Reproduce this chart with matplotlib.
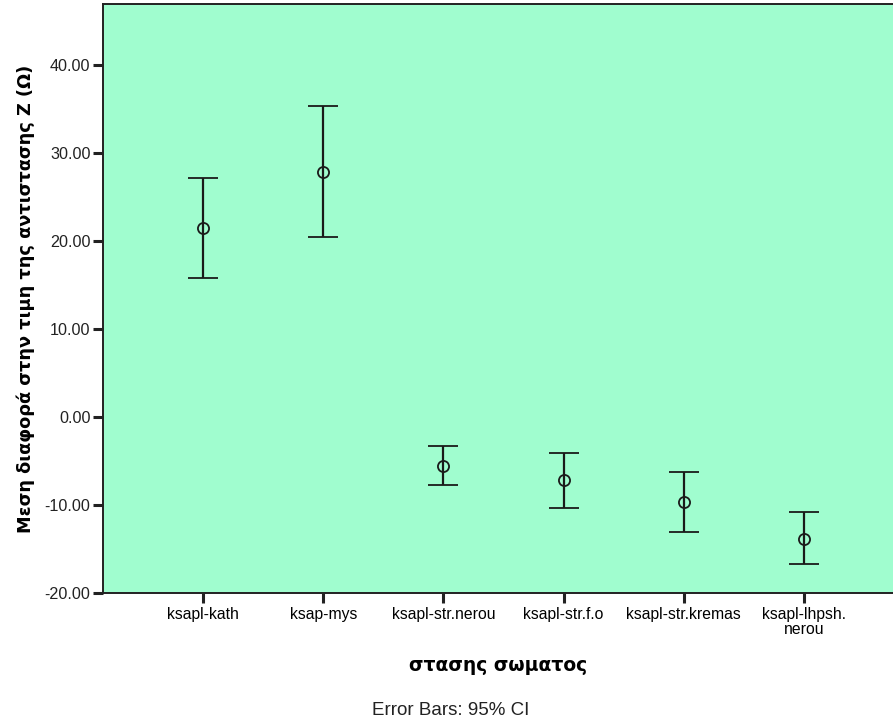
import matplotlib
matplotlib.use("Agg")
import matplotlib.pyplot as plt

plt.rcParams['font.family'] = ['Liberation Sans', 'DejaVu Sans']

categories = ["ksapl-kath", "ksap-mys", "ksapl-str.nerou", "ksapl-str.f.o",
              "ksapl-str.kremas", "ksapl-lhpsh.\nnerou"]
means = [21.47, 27.86, -5.55, -7.18, -9.65, -13.90]
ci_upper = [27.10, 35.33, -3.30, -4.13, -6.30, -10.78]
ci_lower = [15.78, 20.45, -7.74, -10.29, -13.02, -16.74]
yticks = [-20, -10, 0, 10, 20, 30, 40]

fig = plt.figure(figsize=(8.93, 7.23), dpi=100)
ax = fig.add_axes([0.1153, 0.1798, 0.8847, 0.8147])
ax.set_facecolor('#a0fdcf')

pos = list(range(len(categories)))
err_lo = [m - lo for m, lo in zip(means, ci_lower)]
err_hi = [hi - m for m, hi in zip(means, ci_upper)]
ax.errorbar(pos, means, yerr=[err_lo, err_hi], fmt='o', color='#1a1a1a',
            ecolor='#1a1a1a', elinewidth=1.6, capsize=11, capthick=1.6,
            markersize=8, markerfacecolor='none', markeredgewidth=1.3)

ax.set_xlim(-0.833, 5.74)
ax.set_ylim(-20, 46.9)
ax.set_xticks(pos)
ax.set_xticklabels(categories, fontsize=11.3, linespacing=1.0)
ax.set_yticks(yticks)
ax.set_yticklabels(["%.2f" % v for v in yticks], fontsize=11.6, color='#222222')
ax.tick_params(axis='both', direction='out', length=7, width=2.2, color='#222222')
ax.tick_params(axis='x', pad=3)
ax.tick_params(axis='y', pad=2)

for s in ['left', 'bottom', 'top']:
    ax.spines[s].set_linewidth(1.4)
    ax.spines[s].set_color('#222222')
ax.spines['right'].set_visible(False)

ax.set_ylabel("Μεση διαφορά στην τιμη της αντιστασης Z (Ω)", fontsize=12.8,
              fontweight='bold', family='DejaVu Sans', labelpad=7)
ax.set_xlabel("στασης σωματος", fontsize=13.5, fontweight='bold',
              family='DejaVu Sans', labelpad=14)

fig.text(0.505, 0.017, "Error Bars: 95% CI", ha='center', va='center', fontsize=13.5,
         color='#222222')

fig.savefig("out.png", dpi=100)
